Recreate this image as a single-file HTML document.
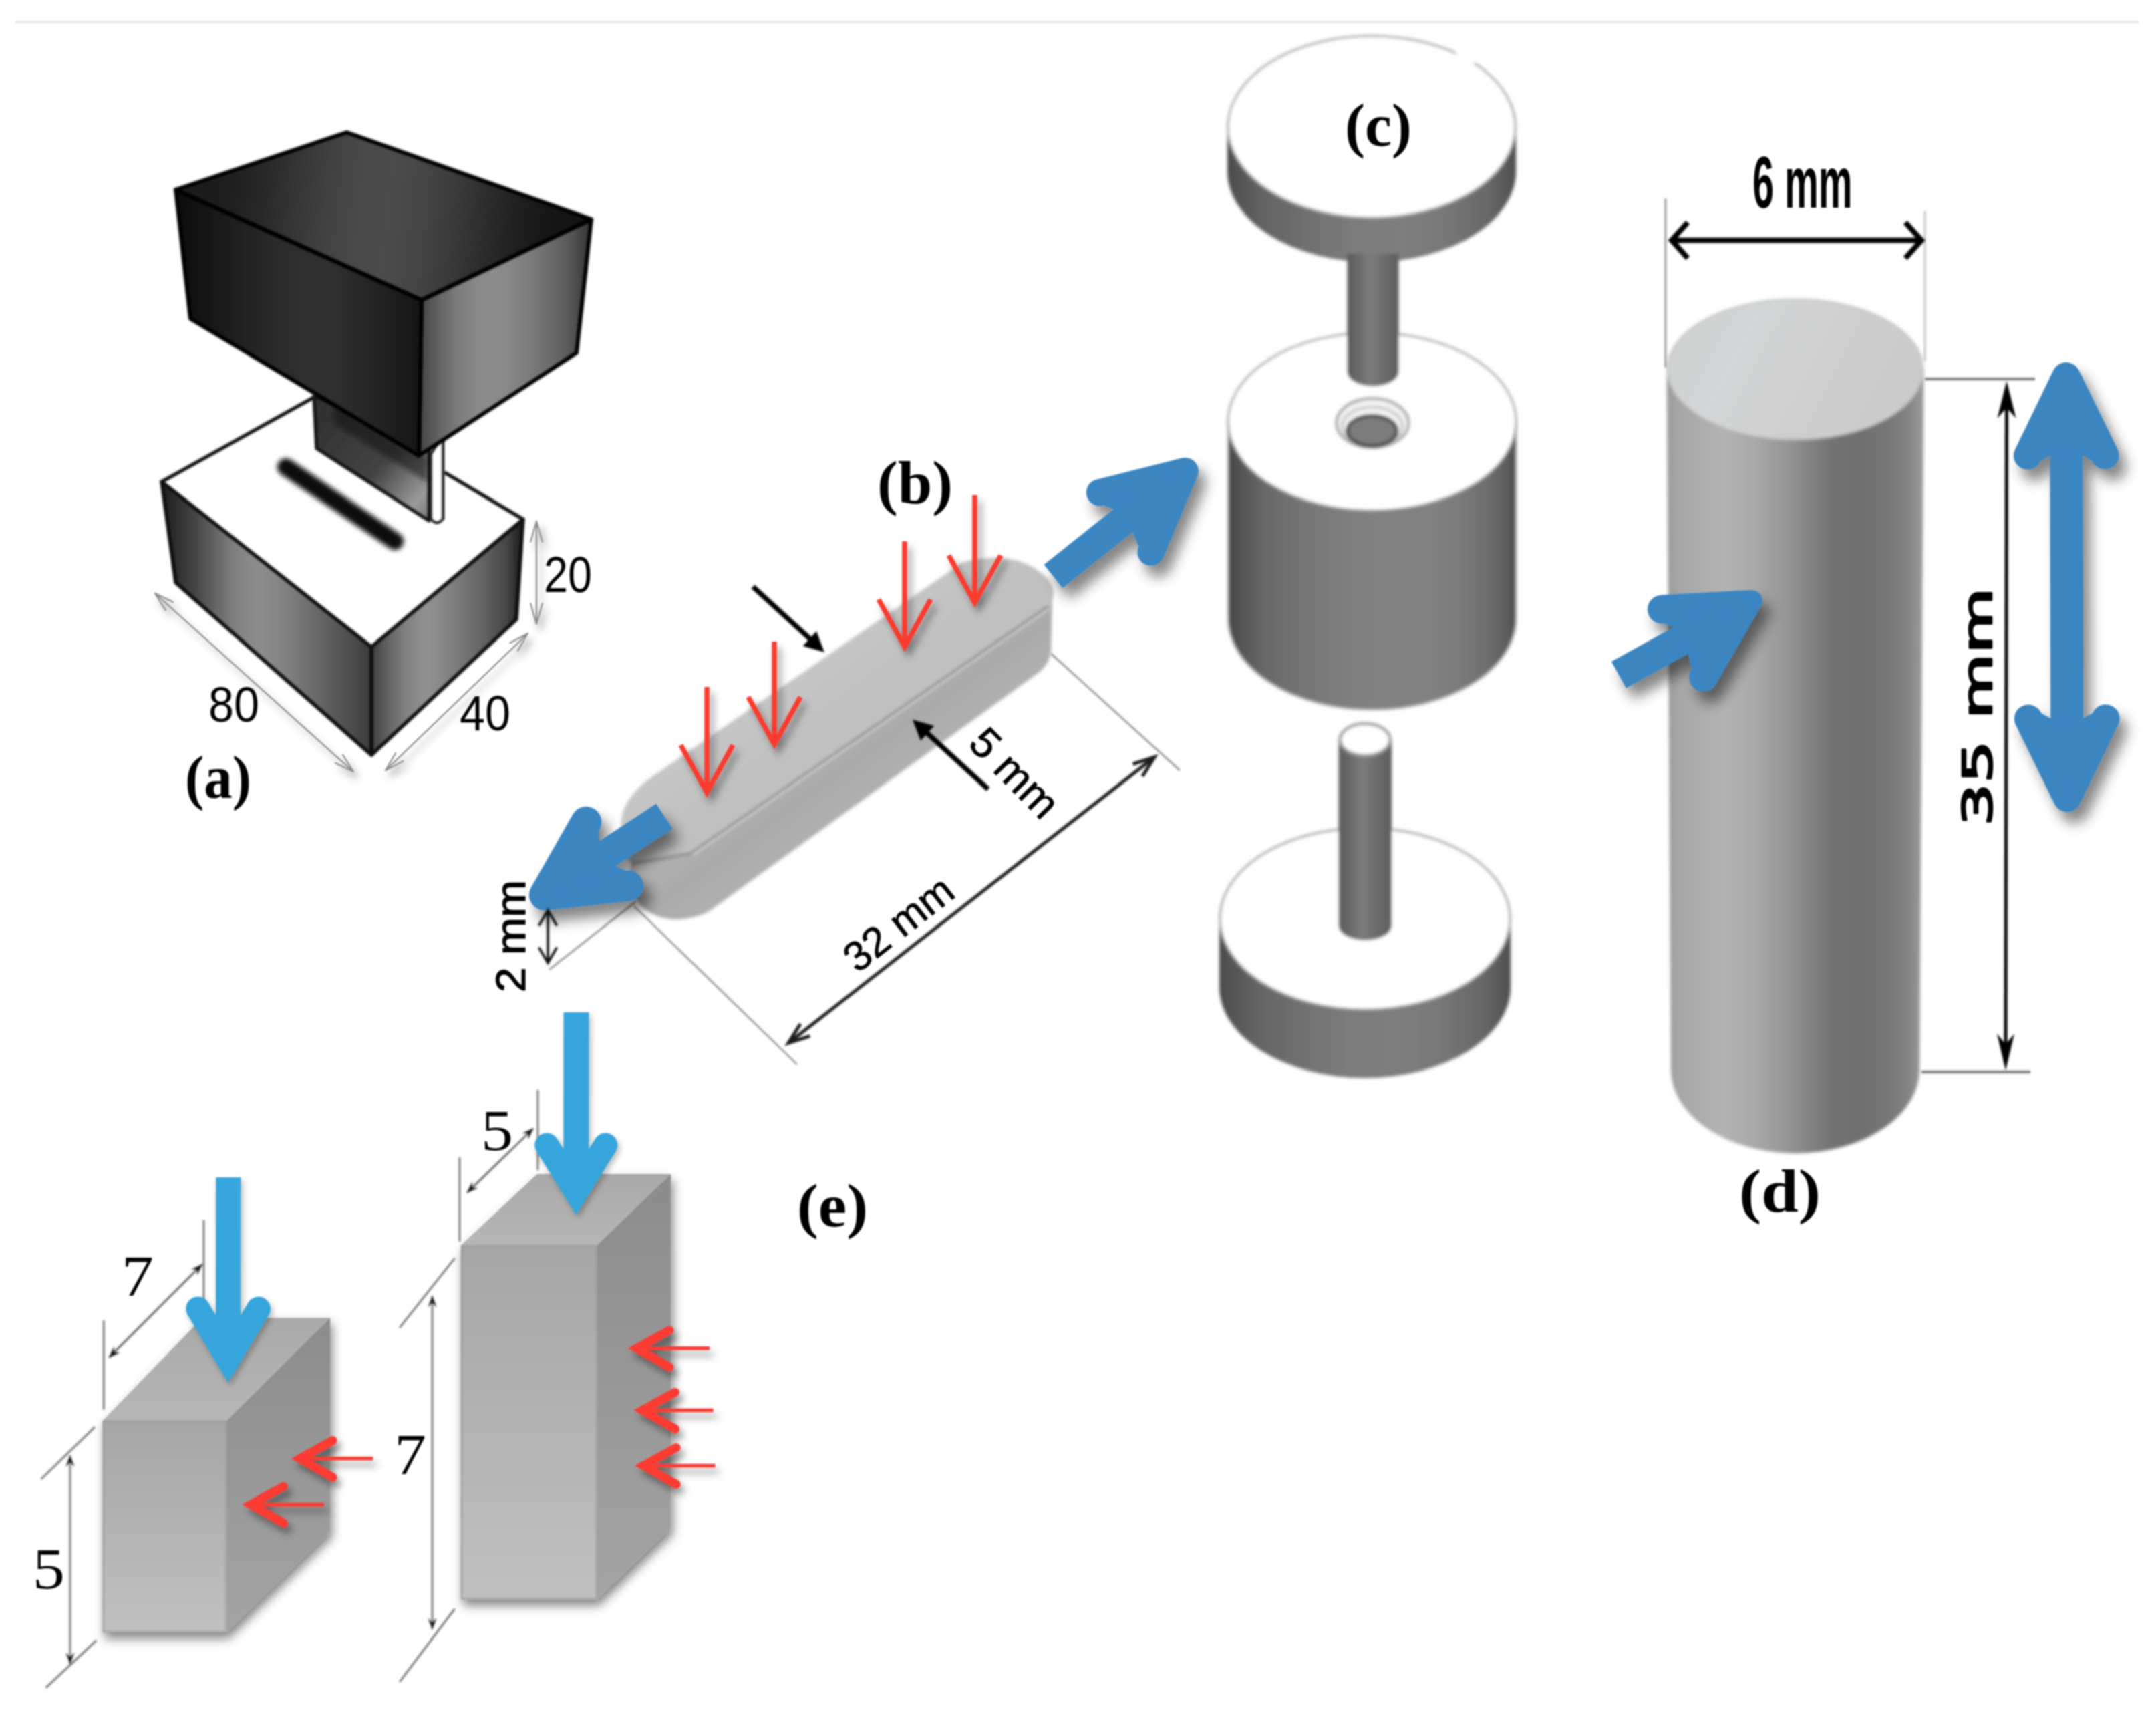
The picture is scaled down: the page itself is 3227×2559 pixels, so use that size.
<!DOCTYPE html>
<html lang="en"><head><meta charset="utf-8"><title>Figure</title>
<style>
html,body{margin:0;padding:0;background:#fff;}
body{width:3227px;height:2559px;overflow:hidden;}
svg{display:block;filter:blur(0.9px);}
text{font-family:"Liberation Sans",sans-serif;fill:#000;}
.ser{font-family:"Liberation Serif",serif;}
.serb{font-family:"Liberation Serif",serif;font-weight:bold;}
.dv{font-family:"DejaVu Sans",sans-serif;font-weight:bold;}
.dvr{font-family:"DejaVu Sans",sans-serif;}
</style></head><body>
<svg width="3227" height="2559" viewBox="0 0 3227 2559">

<defs>
  
  
  
  
  
  
  

  <!-- (a) gradients -->
  <linearGradient id="aL" gradientUnits="userSpaceOnUse" x1="263" y1="0" x2="631" y2="0"><stop offset="0.000" stop-color="#0b0b0b"/><stop offset="0.030" stop-color="#0e0e0e"/><stop offset="0.230" stop-color="#1e1e1e"/><stop offset="0.430" stop-color="#2c2c2c"/><stop offset="0.550" stop-color="#303030"/><stop offset="0.635" stop-color="#303030"/><stop offset="0.840" stop-color="#222222"/><stop offset="0.970" stop-color="#181818"/><stop offset="1.000" stop-color="#141414"/></linearGradient>
  <linearGradient id="aT" gradientUnits="userSpaceOnUse" x1="300" y1="300" x2="860" y2="360"><stop offset="0.000" stop-color="#1c1c1c"/><stop offset="0.083" stop-color="#1f1f1f"/><stop offset="0.167" stop-color="#292929"/><stop offset="0.250" stop-color="#353535"/><stop offset="0.333" stop-color="#414141"/><stop offset="0.417" stop-color="#494949"/><stop offset="0.500" stop-color="#4b4b4b"/><stop offset="0.583" stop-color="#464646"/><stop offset="0.667" stop-color="#3b3b3b"/><stop offset="0.750" stop-color="#2e2e2e"/><stop offset="0.833" stop-color="#212121"/><stop offset="0.917" stop-color="#171717"/><stop offset="1.000" stop-color="#141414"/></linearGradient>
  <linearGradient id="aR" gradientUnits="userSpaceOnUse" x1="631" y1="0" x2="884" y2="0"><stop offset="0.000" stop-color="#484848"/><stop offset="0.100" stop-color="#626262"/><stop offset="0.200" stop-color="#7a7a7a"/><stop offset="0.320" stop-color="#888888"/><stop offset="0.420" stop-color="#8c8c8c"/><stop offset="0.530" stop-color="#868686"/><stop offset="0.640" stop-color="#7c7c7c"/><stop offset="0.750" stop-color="#6c6c6c"/><stop offset="0.860" stop-color="#5c5c5c"/><stop offset="0.980" stop-color="#3a3a3a"/><stop offset="1.000" stop-color="#303030"/></linearGradient>
  <linearGradient id="aL2" gradientUnits="userSpaceOnUse" x1="242" y1="0" x2="556" y2="0"><stop offset="0.000" stop-color="#202020"/><stop offset="0.045" stop-color="#282828"/><stop offset="0.170" stop-color="#484848"/><stop offset="0.260" stop-color="#666666"/><stop offset="0.340" stop-color="#7e7e7e"/><stop offset="0.410" stop-color="#898989"/><stop offset="0.467" stop-color="#8d8d8d"/><stop offset="0.550" stop-color="#868686"/><stop offset="0.635" stop-color="#7a7a7a"/><stop offset="0.800" stop-color="#5e5e5e"/><stop offset="0.930" stop-color="#484848"/><stop offset="1.000" stop-color="#3c3c3c"/></linearGradient>
  <linearGradient id="aR2" gradientUnits="userSpaceOnUse" x1="556" y1="0" x2="783" y2="0"><stop offset="0.000" stop-color="#3e3e3e"/><stop offset="0.030" stop-color="#484848"/><stop offset="0.120" stop-color="#666666"/><stop offset="0.220" stop-color="#808080"/><stop offset="0.300" stop-color="#8c8c8c"/><stop offset="0.370" stop-color="#909090"/><stop offset="0.460" stop-color="#898989"/><stop offset="0.540" stop-color="#7e7e7e"/><stop offset="0.720" stop-color="#666666"/><stop offset="0.890" stop-color="#464646"/><stop offset="0.960" stop-color="#2a2a2a"/><stop offset="1.000" stop-color="#202020"/></linearGradient>
  <linearGradient id="aS" gradientUnits="userSpaceOnUse" x1="480" y1="640" x2="640" y2="780">
    <stop offset="0" stop-color="#333"/><stop offset="0.5" stop-color="#444"/><stop offset="0.85" stop-color="#9a9a9a"/><stop offset="1" stop-color="#777"/>
  </linearGradient>

  <!-- (c) gradients -->
  <linearGradient id="cB" gradientUnits="userSpaceOnUse" x1="1838" y1="0" x2="2270" y2="0"><stop offset="0.000" stop-color="#464646"/><stop offset="0.015" stop-color="#4a4a4a"/><stop offset="0.058" stop-color="#585858"/><stop offset="0.130" stop-color="#686868"/><stop offset="0.226" stop-color="#727272"/><stop offset="0.320" stop-color="#797979"/><stop offset="0.418" stop-color="#7f7f7f"/><stop offset="0.510" stop-color="#818181"/><stop offset="0.706" stop-color="#818181"/><stop offset="0.800" stop-color="#7b7b7b"/><stop offset="0.898" stop-color="#6e6e6e"/><stop offset="0.970" stop-color="#5c5c5c"/><stop offset="0.990" stop-color="#505050"/><stop offset="1.000" stop-color="#4c4c4c"/></linearGradient>
  <linearGradient id="cR" gradientUnits="objectBoundingBox" x1="0" y1="0" x2="1" y2="0"><stop offset="0.000" stop-color="#4a4a4a"/><stop offset="0.030" stop-color="#525252"/><stop offset="0.130" stop-color="#646464"/><stop offset="0.300" stop-color="#727272"/><stop offset="0.450" stop-color="#7c7c7c"/><stop offset="0.600" stop-color="#7e7e7e"/><stop offset="0.750" stop-color="#787878"/><stop offset="0.900" stop-color="#686868"/><stop offset="0.970" stop-color="#585858"/><stop offset="1.000" stop-color="#4e4e4e"/></linearGradient>
  <linearGradient id="cS" gradientUnits="objectBoundingBox" x1="0" y1="0" x2="1" y2="0">
    <stop offset="0" stop-color="#5a5a5a"/><stop offset="0.45" stop-color="#7c7c7c"/><stop offset="1" stop-color="#5c5c5c"/>
  </linearGradient>

  <!-- (d) gradients -->
  <linearGradient id="dB" gradientUnits="userSpaceOnUse" x1="2495" y1="0" x2="2880" y2="0"><stop offset="0.00" stop-color="#9c9c9c"/><stop offset="0.05" stop-color="#a6a6a6"/><stop offset="0.22" stop-color="#b3b3b3"/><stop offset="0.34" stop-color="#a9a9a9"/><stop offset="0.46" stop-color="#969696"/><stop offset="0.56" stop-color="#828282"/><stop offset="0.64" stop-color="#737373"/><stop offset="0.76" stop-color="#707070"/><stop offset="0.86" stop-color="#767676"/><stop offset="0.93" stop-color="#828282"/><stop offset="1.00" stop-color="#9c9c9c"/></linearGradient>
  <linearGradient id="dT" gradientUnits="userSpaceOnUse" x1="2495" y1="450" x2="2878" y2="650">
    <stop offset="0" stop-color="#cccdce"/><stop offset="0.3" stop-color="#d3d5d6"/><stop offset="0.6" stop-color="#cecece"/><stop offset="1" stop-color="#cacaca"/>
  </linearGradient>

  <!-- (b) gradients -->
  <linearGradient id="bT" gradientUnits="userSpaceOnUse" x1="1100" y1="950" x2="1210" y2="1100">
    <stop offset="0" stop-color="#bdbdbd"/><stop offset="0.5" stop-color="#c6c6c6"/><stop offset="1" stop-color="#c0c0c0"/>
  </linearGradient>
  <linearGradient id="bS" gradientUnits="userSpaceOnUse" x1="1200" y1="1100" x2="1290" y2="1225">
    <stop offset="0" stop-color="#b4b4b4"/><stop offset="0.5" stop-color="#aaaaaa"/><stop offset="1" stop-color="#b2b2b2"/>
  </linearGradient>

  <!-- (e) gradients -->
  <linearGradient id="eF" x1="0" y1="0" x2="0" y2="1">
    <stop offset="0" stop-color="#a6a6a6"/><stop offset="1" stop-color="#c0c0c0"/>
  </linearGradient>
  <linearGradient id="eR" x1="0" y1="0" x2="0" y2="1">
    <stop offset="0" stop-color="#8c8c8c"/><stop offset="1" stop-color="#a4a4a4"/>
  </linearGradient>
  <linearGradient id="eT" x1="0" y1="0" x2="0" y2="1">
    <stop offset="0" stop-color="#a9a9a9"/><stop offset="1" stop-color="#b6b6b6"/>
  </linearGradient>
<filter id="sh_a" filterUnits="userSpaceOnUse" x="180" y="150" width="780" height="1120">
    <feGaussianBlur in="SourceAlpha" stdDeviation="10"/>
    <feOffset dx="11" dy="17" result="o"/>
    <feComponentTransfer><feFuncA type="linear" slope="0.48"/></feComponentTransfer>
    <feMerge><feMergeNode/><feMergeNode in="SourceGraphic"/></feMerge>
  </filter>
<filter id="shs_a" filterUnits="userSpaceOnUse" x="180" y="150" width="780" height="1120">
    <feGaussianBlur in="SourceAlpha" stdDeviation="6"/>
    <feOffset dx="6" dy="9" result="o"/>
    <feComponentTransfer><feFuncA type="linear" slope="0.4"/></feComponentTransfer>
    <feMerge><feMergeNode/><feMergeNode in="SourceGraphic"/></feMerge>
  </filter>
<filter id="shbox_a" filterUnits="userSpaceOnUse" x="180" y="150" width="780" height="1120">
    <feGaussianBlur in="SourceAlpha" stdDeviation="8"/>
    <feOffset dx="3" dy="9" result="o"/>
    <feComponentTransfer><feFuncA type="linear" slope="0.5"/></feComponentTransfer>
    <feMerge><feMergeNode/><feMergeNode in="SourceGraphic"/></feMerge>
  </filter>
<filter id="shl_a" filterUnits="userSpaceOnUse" x="180" y="150" width="780" height="1120">
    <feGaussianBlur in="SourceAlpha" stdDeviation="5"/>
    <feOffset dx="3" dy="5" result="o"/>
    <feComponentTransfer><feFuncA type="linear" slope="0.28"/></feComponentTransfer>
    <feMerge><feMergeNode/><feMergeNode in="SourceGraphic"/></feMerge>
  </filter>
<filter id="b1_a" filterUnits="userSpaceOnUse" x="180" y="150" width="780" height="1120"><feGaussianBlur stdDeviation="1.2"/></filter>
<filter id="b2_a" filterUnits="userSpaceOnUse" x="180" y="150" width="780" height="1120"><feGaussianBlur stdDeviation="2.2"/></filter>
<filter id="b3_a" filterUnits="userSpaceOnUse" x="180" y="150" width="780" height="1120"><feGaussianBlur stdDeviation="3.5"/></filter>
<filter id="sh_b" filterUnits="userSpaceOnUse" x="700" y="640" width="1160" height="1010">
    <feGaussianBlur in="SourceAlpha" stdDeviation="10"/>
    <feOffset dx="11" dy="17" result="o"/>
    <feComponentTransfer><feFuncA type="linear" slope="0.48"/></feComponentTransfer>
    <feMerge><feMergeNode/><feMergeNode in="SourceGraphic"/></feMerge>
  </filter>
<filter id="shs_b" filterUnits="userSpaceOnUse" x="700" y="640" width="1160" height="1010">
    <feGaussianBlur in="SourceAlpha" stdDeviation="6"/>
    <feOffset dx="6" dy="9" result="o"/>
    <feComponentTransfer><feFuncA type="linear" slope="0.4"/></feComponentTransfer>
    <feMerge><feMergeNode/><feMergeNode in="SourceGraphic"/></feMerge>
  </filter>
<filter id="shbox_b" filterUnits="userSpaceOnUse" x="700" y="640" width="1160" height="1010">
    <feGaussianBlur in="SourceAlpha" stdDeviation="8"/>
    <feOffset dx="3" dy="9" result="o"/>
    <feComponentTransfer><feFuncA type="linear" slope="0.5"/></feComponentTransfer>
    <feMerge><feMergeNode/><feMergeNode in="SourceGraphic"/></feMerge>
  </filter>
<filter id="shl_b" filterUnits="userSpaceOnUse" x="700" y="640" width="1160" height="1010">
    <feGaussianBlur in="SourceAlpha" stdDeviation="5"/>
    <feOffset dx="3" dy="5" result="o"/>
    <feComponentTransfer><feFuncA type="linear" slope="0.28"/></feComponentTransfer>
    <feMerge><feMergeNode/><feMergeNode in="SourceGraphic"/></feMerge>
  </filter>
<filter id="b1_b" filterUnits="userSpaceOnUse" x="700" y="640" width="1160" height="1010"><feGaussianBlur stdDeviation="1.2"/></filter>
<filter id="b2_b" filterUnits="userSpaceOnUse" x="700" y="640" width="1160" height="1010"><feGaussianBlur stdDeviation="2.2"/></filter>
<filter id="b3_b" filterUnits="userSpaceOnUse" x="700" y="640" width="1160" height="1010"><feGaussianBlur stdDeviation="3.5"/></filter>
<filter id="sh_c" filterUnits="userSpaceOnUse" x="1780" y="20" width="560" height="1650">
    <feGaussianBlur in="SourceAlpha" stdDeviation="10"/>
    <feOffset dx="11" dy="17" result="o"/>
    <feComponentTransfer><feFuncA type="linear" slope="0.48"/></feComponentTransfer>
    <feMerge><feMergeNode/><feMergeNode in="SourceGraphic"/></feMerge>
  </filter>
<filter id="shs_c" filterUnits="userSpaceOnUse" x="1780" y="20" width="560" height="1650">
    <feGaussianBlur in="SourceAlpha" stdDeviation="6"/>
    <feOffset dx="6" dy="9" result="o"/>
    <feComponentTransfer><feFuncA type="linear" slope="0.4"/></feComponentTransfer>
    <feMerge><feMergeNode/><feMergeNode in="SourceGraphic"/></feMerge>
  </filter>
<filter id="shbox_c" filterUnits="userSpaceOnUse" x="1780" y="20" width="560" height="1650">
    <feGaussianBlur in="SourceAlpha" stdDeviation="8"/>
    <feOffset dx="3" dy="9" result="o"/>
    <feComponentTransfer><feFuncA type="linear" slope="0.5"/></feComponentTransfer>
    <feMerge><feMergeNode/><feMergeNode in="SourceGraphic"/></feMerge>
  </filter>
<filter id="shl_c" filterUnits="userSpaceOnUse" x="1780" y="20" width="560" height="1650">
    <feGaussianBlur in="SourceAlpha" stdDeviation="5"/>
    <feOffset dx="3" dy="5" result="o"/>
    <feComponentTransfer><feFuncA type="linear" slope="0.28"/></feComponentTransfer>
    <feMerge><feMergeNode/><feMergeNode in="SourceGraphic"/></feMerge>
  </filter>
<filter id="b1_c" filterUnits="userSpaceOnUse" x="1780" y="20" width="560" height="1650"><feGaussianBlur stdDeviation="1.2"/></filter>
<filter id="b2_c" filterUnits="userSpaceOnUse" x="1780" y="20" width="560" height="1650"><feGaussianBlur stdDeviation="2.2"/></filter>
<filter id="b3_c" filterUnits="userSpaceOnUse" x="1780" y="20" width="560" height="1650"><feGaussianBlur stdDeviation="3.5"/></filter>
<filter id="sh_d" filterUnits="userSpaceOnUse" x="2370" y="180" width="857" height="1710">
    <feGaussianBlur in="SourceAlpha" stdDeviation="10"/>
    <feOffset dx="11" dy="17" result="o"/>
    <feComponentTransfer><feFuncA type="linear" slope="0.48"/></feComponentTransfer>
    <feMerge><feMergeNode/><feMergeNode in="SourceGraphic"/></feMerge>
  </filter>
<filter id="shs_d" filterUnits="userSpaceOnUse" x="2370" y="180" width="857" height="1710">
    <feGaussianBlur in="SourceAlpha" stdDeviation="6"/>
    <feOffset dx="6" dy="9" result="o"/>
    <feComponentTransfer><feFuncA type="linear" slope="0.4"/></feComponentTransfer>
    <feMerge><feMergeNode/><feMergeNode in="SourceGraphic"/></feMerge>
  </filter>
<filter id="shbox_d" filterUnits="userSpaceOnUse" x="2370" y="180" width="857" height="1710">
    <feGaussianBlur in="SourceAlpha" stdDeviation="8"/>
    <feOffset dx="3" dy="9" result="o"/>
    <feComponentTransfer><feFuncA type="linear" slope="0.5"/></feComponentTransfer>
    <feMerge><feMergeNode/><feMergeNode in="SourceGraphic"/></feMerge>
  </filter>
<filter id="shl_d" filterUnits="userSpaceOnUse" x="2370" y="180" width="857" height="1710">
    <feGaussianBlur in="SourceAlpha" stdDeviation="5"/>
    <feOffset dx="3" dy="5" result="o"/>
    <feComponentTransfer><feFuncA type="linear" slope="0.28"/></feComponentTransfer>
    <feMerge><feMergeNode/><feMergeNode in="SourceGraphic"/></feMerge>
  </filter>
<filter id="b1_d" filterUnits="userSpaceOnUse" x="2370" y="180" width="857" height="1710"><feGaussianBlur stdDeviation="1.2"/></filter>
<filter id="b2_d" filterUnits="userSpaceOnUse" x="2370" y="180" width="857" height="1710"><feGaussianBlur stdDeviation="2.2"/></filter>
<filter id="b3_d" filterUnits="userSpaceOnUse" x="2370" y="180" width="857" height="1710"><feGaussianBlur stdDeviation="3.5"/></filter>
<filter id="sh_e" filterUnits="userSpaceOnUse" x="0" y="1480" width="1350" height="1079">
    <feGaussianBlur in="SourceAlpha" stdDeviation="10"/>
    <feOffset dx="11" dy="17" result="o"/>
    <feComponentTransfer><feFuncA type="linear" slope="0.48"/></feComponentTransfer>
    <feMerge><feMergeNode/><feMergeNode in="SourceGraphic"/></feMerge>
  </filter>
<filter id="shs_e" filterUnits="userSpaceOnUse" x="0" y="1480" width="1350" height="1079">
    <feGaussianBlur in="SourceAlpha" stdDeviation="6"/>
    <feOffset dx="6" dy="9" result="o"/>
    <feComponentTransfer><feFuncA type="linear" slope="0.4"/></feComponentTransfer>
    <feMerge><feMergeNode/><feMergeNode in="SourceGraphic"/></feMerge>
  </filter>
<filter id="shbox_e" filterUnits="userSpaceOnUse" x="0" y="1480" width="1350" height="1079">
    <feGaussianBlur in="SourceAlpha" stdDeviation="8"/>
    <feOffset dx="3" dy="9" result="o"/>
    <feComponentTransfer><feFuncA type="linear" slope="0.5"/></feComponentTransfer>
    <feMerge><feMergeNode/><feMergeNode in="SourceGraphic"/></feMerge>
  </filter>
<filter id="shl_e" filterUnits="userSpaceOnUse" x="0" y="1480" width="1350" height="1079">
    <feGaussianBlur in="SourceAlpha" stdDeviation="5"/>
    <feOffset dx="3" dy="5" result="o"/>
    <feComponentTransfer><feFuncA type="linear" slope="0.28"/></feComponentTransfer>
    <feMerge><feMergeNode/><feMergeNode in="SourceGraphic"/></feMerge>
  </filter>
<filter id="b1_e" filterUnits="userSpaceOnUse" x="0" y="1480" width="1350" height="1079"><feGaussianBlur stdDeviation="1.2"/></filter>
<filter id="b2_e" filterUnits="userSpaceOnUse" x="0" y="1480" width="1350" height="1079"><feGaussianBlur stdDeviation="2.2"/></filter>
<filter id="b3_e" filterUnits="userSpaceOnUse" x="0" y="1480" width="1350" height="1079"><feGaussianBlur stdDeviation="3.5"/></filter>
</defs>

<g>
<rect x="23" y="31" width="3178" height="4.5" fill="#ececec"/>
<g id="fig-a">
<polygon points="242.0,721.0 469.0,595.0 667.0,708.0 783.0,777.0 556.0,968.0" fill="#fff"/>
<polygon points="242.0,721.0 556.0,968.0 556.0,1130.0 263.0,872.0" fill="url(#aL2)"/>
<polygon points="556.0,968.0 783.0,777.0 773.0,927.0 556.0,1130.0" fill="url(#aR2)"/>
<g stroke="#0a0a0a" stroke-width="5.4" stroke-linejoin="round" stroke-linecap="round" fill="none" filter="url(#b1_a)">
<polygon points="242.0,721.0 556.0,968.0 556.0,1130.0 263.0,872.0" />
<polygon points="556.0,968.0 783.0,777.0 773.0,927.0 556.0,1130.0" />
<line x1="242.0" y1="721.0" x2="469.0" y2="595.0" />
<line x1="667.0" y1="708.0" x2="783.0" y2="777.0" />
</g>
<line x1="428" y1="699" x2="591" y2="810" stroke="#0a0a0a" stroke-width="26" stroke-linecap="round" filter="url(#b3_a)"/>
<polygon points="470.0,593.0 474.0,671.0 642.0,779.0 642.0,660.0" fill="url(#aS)" stroke="#151515" stroke-width="5.5" stroke-linejoin="round" filter="url(#b1_a)"/>
<path d="M500,602 L640,686 L640,722 L500,634 Z" fill="#111" opacity="0.5" filter="url(#b3_a)"/>
<path d="M645,680 L645,776 Q654,788 663,776 L663,650 Z" fill="#fff" stroke="#151515" stroke-width="4.5" filter="url(#b1_a)"/>
<polygon points="263.0,284.0 519.0,198.0 885.0,328.0 631.0,449.0" fill="url(#aT)"/>
<polygon points="263.0,284.0 631.0,449.0 627.0,682.0 285.0,477.0" fill="url(#aL)"/>
<polygon points="631.0,449.0 885.0,328.0 863.0,528.0 627.0,682.0" fill="url(#aR)"/>
<g stroke="#050505" stroke-width="6" stroke-linejoin="round" fill="none" filter="url(#b1_a)">
<polygon points="263.0,284.0 519.0,198.0 885.0,328.0 631.0,449.0" />
<polygon points="263.0,284.0 631.0,449.0 627.0,682.0 285.0,477.0" />
<polygon points="631.0,449.0 885.0,328.0 863.0,528.0 627.0,682.0" />
</g>
<g filter="url(#shs_a)">
<line x1="232.0" y1="888.0" x2="529.0" y2="1155.0" stroke="#8c8c8c" stroke-width="2.2" stroke-linecap="round" stroke-linejoin="round"/><polyline points="502.0,1141.9 529.0,1155.0 513.1,1129.6" fill="none" stroke="#8c8c8c" stroke-width="2.2" stroke-linecap="round" stroke-linejoin="round"/><polyline points="259.0,901.1 232.0,888.0 247.9,913.4" fill="none" stroke="#8c8c8c" stroke-width="2.2" stroke-linecap="round" stroke-linejoin="round"/>
<line x1="577.0" y1="1153.0" x2="790.0" y2="948.0" stroke="#8c8c8c" stroke-width="2.2" stroke-linecap="round" stroke-linejoin="round"/><polyline points="775.0,974.0 790.0,948.0 763.5,962.0" fill="none" stroke="#8c8c8c" stroke-width="2.2" stroke-linecap="round" stroke-linejoin="round"/><polyline points="592.0,1127.0 577.0,1153.0 603.5,1139.0" fill="none" stroke="#8c8c8c" stroke-width="2.2" stroke-linecap="round" stroke-linejoin="round"/>
<line x1="803.0" y1="780.0" x2="803.0" y2="934.0" stroke="#8c8c8c" stroke-width="2.2" stroke-linecap="round" stroke-linejoin="round"/><polyline points="794.2,903.2 803.0,934.0 811.8,903.2" fill="none" stroke="#8c8c8c" stroke-width="2.2" stroke-linecap="round" stroke-linejoin="round"/><polyline points="811.8,810.8 803.0,780.0 794.2,810.8" fill="none" stroke="#8c8c8c" stroke-width="2.2" stroke-linecap="round" stroke-linejoin="round"/>
</g>
<text x="814" y="886" font-size="76" textLength="72" lengthAdjust="spacingAndGlyphs">20</text>
<text x="312" y="1079.5" font-size="74" textLength="76" lengthAdjust="spacingAndGlyphs">80</text>
<text x="688" y="1092.5" font-size="74" textLength="76" lengthAdjust="spacingAndGlyphs">40</text>
<text class="serb" x="277" y="1194" font-size="90" textLength="99" lengthAdjust="spacingAndGlyphs">(a)</text>
</g>
<g id="fig-b">
<line x1="1573.0" y1="978.0" x2="1766.0" y2="1153.0" stroke="#8a8a8a" stroke-width="2.4" filter="url(#b1_b)"/>
<line x1="949.0" y1="1356.0" x2="1193.0" y2="1593.0" stroke="#8a8a8a" stroke-width="2.4" filter="url(#b1_b)"/>
<line x1="822.0" y1="1451.0" x2="952.0" y2="1349.0" stroke="#8a8a8a" stroke-width="2.4" filter="url(#b1_b)"/>
<g filter="url(#b2_b)">
<path d="M1568,909 L1035,1277 L945,1292 C938,1312 944,1340 960,1356 C976,1372 1002,1379 1026,1375 C1044,1372 1055,1368 1064,1362 L1554,1007 C1566,998 1572,986 1573,974 L1575,890 Z" fill="url(#bS)"/>
<path d="M1440,842 L975,1163 C950,1181 933,1203 930,1226 C928,1258 934,1284 945,1292 L1035,1277 L1568,909 C1580,897 1579,881 1570,869 C1555,849 1520,832 1484,835 C1465,836 1450,838 1440,842 Z" fill="url(#bT)"/>
<path d="M945,1292 L1035,1277" stroke="#8c8c8c" stroke-width="4" fill="none"/>
<path d="M1037,1279 L1570,911" stroke="#d2d2d2" stroke-width="3" fill="none"/>
<path d="M1035,1276 L1568,908" stroke="#848484" stroke-width="3" fill="none"/>
</g>
<g filter="url(#sh_b)" stroke="#3a85c1" fill="none"><line x1="1576.5" y1="862.5" x2="1773.9" y2="705.0" stroke-width="44.6"/><polyline stroke-width="40.0" stroke-linecap="round" stroke-linejoin="round" stroke-miterlimit="10" points="1722.5,826.6 1773.9,705.0 1645.9,737.1"/><polygon fill="#3a85c1" stroke="none" points="1773.9,705.0 1705.0,819.2 1694.8,795.3 1668.3,762.0 1650.5,755.6"/></g>
<g filter="url(#sh_b)" stroke="#3a85c1" fill="none"><line x1="994.4" y1="1221.5" x2="815.0" y2="1339.5" stroke-width="44.8"/><polyline stroke-width="46.0" stroke-linecap="round" stroke-linejoin="round" stroke-miterlimit="10" points="877.4,1230.0 815.0,1339.5 940.2,1325.6"/><polygon fill="#3a85c1" stroke="none" points="815.0,1339.5 896.5,1240.9 897.0,1259.9 920.6,1295.7 937.8,1303.7"/></g>
<g filter="url(#shs_b)" stroke="#fb3b2e" stroke-width="7.5" fill="none" stroke-linejoin="miter">
<line x1="1058" y1="1028" x2="1058" y2="1185"/>
<polyline points="1019,1115 1058,1186 1097,1115"/>
<line x1="1159" y1="960" x2="1159" y2="1113"/>
<polyline points="1120,1043 1159,1114 1198,1043"/>
<line x1="1354" y1="810" x2="1354" y2="967"/>
<polyline points="1315,897 1354,968 1393,897"/>
<line x1="1459" y1="741" x2="1459" y2="901"/>
<polyline points="1420,831 1459,902 1498,831"/>
</g>
<g filter="url(#b1_b)">
<line x1="1127.0" y1="878.0" x2="1213.4" y2="957.1" stroke="#000" stroke-width="7.5"/><polygon points="1234.0,976.0 1201.7,966.8 1222.0,944.7" fill="#000"/>
<line x1="1479.0" y1="1181.0" x2="1386.6" y2="1096.0" stroke="#000" stroke-width="7.5"/><polygon points="1366.0,1077.0 1398.2,1086.3 1377.9,1108.4" fill="#000"/>
<line x1="1180.0" y1="1561.0" x2="1728.0" y2="1133.0" stroke="#1a1a1a" stroke-width="5"/><polyline points="1710.0,1161.8 1728.0,1133.0 1695.7,1143.5" fill="none" stroke="#1a1a1a" stroke-width="5"/><polyline points="1198.0,1532.2 1180.0,1561.0 1212.3,1550.5" fill="none" stroke="#1a1a1a" stroke-width="5"/>
<line x1="820.0" y1="1362.0" x2="820.0" y2="1441.0" stroke="#111" stroke-width="3.6"/><polyline points="806.5,1417.6 820.0,1441.0 833.5,1417.6" fill="none" stroke="#111" stroke-width="3.6"/><polyline points="833.5,1385.4 820.0,1362.0 806.5,1385.4" fill="none" stroke="#111" stroke-width="3.6"/>
</g>
<text transform="translate(1358,1399) rotate(-38)" font-size="62" text-anchor="middle" stroke="#000" stroke-width="0.8">32 mm</text>
<text transform="translate(1503,1172) rotate(45.5)" font-size="64" text-anchor="middle" stroke="#000" stroke-width="0.8">5 mm</text>
<text transform="translate(786,1401) rotate(-90)" font-size="63" text-anchor="middle" textLength="168" lengthAdjust="spacingAndGlyphs" stroke="#000" stroke-width="1.3">2 mm</text>
<text class="serb" x="1313" y="753" font-size="90" textLength="113" lengthAdjust="spacingAndGlyphs">(b)</text>
</g>
<g id="fig-c" filter="url(#b2_c)">
<path d="M1825,1375 L1825,1477 A218,136 0 0 0 2261,1477 L2261,1375 Z" fill="url(#cR)"/>
<ellipse cx="2043" cy="1375" rx="217" ry="136" fill="#fff" stroke="#9a9a9a" stroke-width="3"/>
<path d="M2003.5,1107 L2003.5,1385 A39.7,22 0 0 0 2083,1385 L2083,1107 Z" fill="url(#cS)"/>
<ellipse cx="2043.2" cy="1107" rx="37.5" ry="24" fill="#fff" stroke="#9a9a9a" stroke-width="4.5"/>
<path d="M1839.2,631 L1839.2,925 A214.5,136 0 0 0 2268.2,925 L2268.2,631 Z" fill="url(#cB)" stroke="#bcbcbc" stroke-width="5"/>
<path d="M1839.2,631 L1839.2,925 A214.5,136 0 0 0 2268.2,925 L2268.2,631 Z" fill="url(#cB)"/>
<ellipse cx="2053.7" cy="631" rx="215.5" ry="133" fill="#fff" stroke="#a0a0a0" stroke-width="3"/>
<ellipse cx="2054.3" cy="633" rx="54" ry="37" fill="#f2f2f2" stroke="#a8a8a8" stroke-width="4.5"/>
<ellipse cx="2054" cy="638" rx="45" ry="29" fill="none" stroke="#c4c4c4" stroke-width="3.5"/>
<ellipse cx="2053.7" cy="644.7" rx="37" ry="22.5" fill="#7c7c7c" stroke="#4a4a4a" stroke-width="5"/>
<path d="M1837,190 L1837,256 A216,136 0 0 0 2269,256 L2269,190 Z" fill="url(#cR)"/>
<path d="M2016.5,380 L2016.5,556 A38.5,22 0 0 0 2093.5,556 L2093.5,380 Z" fill="url(#cS)"/>
<ellipse cx="2053" cy="190" rx="215" ry="136" fill="#fff" stroke="#a0a0a0" stroke-width="3"/>
<path d="M2187,80 L2200,91" fill="none" stroke="#fff" stroke-width="15" stroke-linecap="round"/>
</g>
<text class="serb" x="2013" y="218" font-size="90" textLength="100" lengthAdjust="spacingAndGlyphs">(c)</text>
<g id="fig-d">
<g filter="url(#b2_d)">
<path d="M2494.5,552.8 L2500.8,1600 A186.2,126 0 0 0 2873.2,1600 L2879.5,552.8 Z" fill="url(#dB)"/>
<ellipse cx="2687.0" cy="552.8" rx="191.5" ry="105.0" fill="url(#dT)" stroke="#bdbdbd" stroke-width="2"/>
</g>
<line x1="2492.9" y1="297.0" x2="2492.9" y2="550.0" stroke="#9a9a9a" stroke-width="3" filter="url(#b1_d)"/>
<line x1="2881.0" y1="316.0" x2="2881.0" y2="540.0" stroke="#c4c4c4" stroke-width="3" filter="url(#b1_d)"/>
<line x1="2881.0" y1="567.0" x2="3046.0" y2="567.0" stroke="#6a6a6a" stroke-width="3.5" filter="url(#b1_d)"/>
<line x1="2876.0" y1="1604.0" x2="3039.0" y2="1604.0" stroke="#6a6a6a" stroke-width="3.5" filter="url(#b1_d)"/>
<g filter="url(#b1_d)">
<line x1="2502.0" y1="359.5" x2="2876.0" y2="359.5" stroke="#000" stroke-width="8" stroke-linejoin="miter"/><polyline points="2851.9,386.3 2876.0,359.5 2851.9,332.7" fill="none" stroke="#000" stroke-width="8" stroke-linejoin="miter"/><polyline points="2526.1,332.7 2502.0,359.5 2526.1,386.3" fill="none" stroke="#000" stroke-width="8" stroke-linejoin="miter"/>
<line x1="3003.5" y1="590.0" x2="3002.0" y2="1590.0" stroke="#000" stroke-width="5"/>
<polygon points="3003.5,570 3017.5,626 3003.5,610 2989.5,626" fill="#000"/>
<polygon points="3002,1602 3015,1547 3002,1563 2989,1547" fill="#000"/>
</g>
<text transform="translate(2698,311) scale(0.52,1)" font-size="110" font-weight="bold" text-anchor="middle">6 mm</text>
<text transform="translate(2981,1058) rotate(-90) scale(1.68,1)" class="dvr" font-size="60" text-anchor="middle" stroke="#000" stroke-width="2.6" stroke-linejoin="round">35 mm</text>
<g filter="url(#sh_d)" stroke="#3a85c1" fill="none"><line x1="2422.9" y1="1009.9" x2="2612.2" y2="905.3" stroke-width="45.2"/><polyline stroke-width="43.0" stroke-linecap="round" stroke-linejoin="round" stroke-miterlimit="10" points="2549.7,1013.6 2612.2,905.3 2487.4,911.9"/><polygon fill="#3a85c1" stroke="none" points="2612.2,905.3 2532.0,1003.3 2526.5,977.3 2505.6,939.5 2488.5,932.4"/><polyline stroke-width="32.0" stroke-linecap="butt" stroke-linejoin="round" points="2587.7,958.8 2622.0,899.3 2553.4,902.9"/></g>
<g filter="url(#sh_d)" stroke="#3a85c1" fill="none"><line x1="3094.0" y1="1194.0" x2="3092.5" y2="563.0" stroke-width="49.0"/><polyline stroke-width="42.0" stroke-linecap="round" stroke-linejoin="round" stroke-miterlimit="10" points="3150.6,681.5 3092.5,563.0 3034.9,681.8"/><polygon fill="#3a85c1" stroke="none" points="3092.5,563.0 3132.7,690.3 3116.3,681.6 3069.3,681.7 3052.9,690.5"/><polyline stroke-width="42.0" stroke-linecap="round" stroke-linejoin="round" stroke-miterlimit="10" points="3035.9,1075.5 3094.0,1194.0 3151.6,1075.2"/><polygon fill="#3a85c1" stroke="none" points="3094.0,1194.0 3053.8,1066.7 3070.2,1075.4 3117.2,1075.3 3133.6,1066.5"/></g>
<text class="serb" x="2603" y="1813" font-size="90" textLength="122" lengthAdjust="spacingAndGlyphs">(d)</text>
</g>
<g id="fig-e">
<g filter="url(#shbox_e)"><polygon points="153.7,2126.0 302.7,1972.3 494.3,1972.3 339.6,2126.0" fill="url(#eT)"/><polygon points="339.6,2126.0 494.3,1972.3 494.3,2291.6 339.6,2443.0" fill="url(#eR)"/><rect x="153.7" y="2126.0" width="185.9" height="317.0" fill="url(#eF)"/></g><g fill="none" stroke="#9a9a9a" stroke-width="2.5" opacity="0.8" filter="url(#b1_e)"><rect x="154.7" y="2127.0" width="183.9" height="315.0"/></g>
<g filter="url(#shbox_e)"><polygon points="690.0,1863.6 804.0,1757.0 1004.2,1757.0 893.7,1863.6" fill="url(#eT)"/><polygon points="893.7,1863.6 1004.2,1757.0 1004.2,2287.0 893.7,2393.6" fill="url(#eR)"/><rect x="690.0" y="1863.6" width="203.7" height="530.0" fill="url(#eF)"/></g><g fill="none" stroke="#9a9a9a" stroke-width="2.5" opacity="0.8" filter="url(#b1_e)"><rect x="691.0" y="1864.6" width="201.7" height="528.0"/></g>
<g filter="url(#b1_e)">
<line x1="155.2" y1="1976.0" x2="155.2" y2="2109.5" stroke="#666" stroke-width="2.6"/>
<line x1="305.0" y1="1825.7" x2="305.0" y2="1958.0" stroke="#666" stroke-width="2.6"/>
<line x1="163.2" y1="2031.5" x2="302.7" y2="1892.0" stroke="#555" stroke-width="2.6"/><polygon points="302.7,1892.0 295.3,1908.6 295.2,1899.5 286.1,1899.4" fill="#111"/><polygon points="163.2,2031.5 170.6,2014.9 170.7,2024.0 179.8,2024.1" fill="#111"/>
<line x1="61.5" y1="2213.6" x2="142.0" y2="2135.5" stroke="#666" stroke-width="2.6"/>
<line x1="68.6" y1="2525.8" x2="144.3" y2="2454.8" stroke="#666" stroke-width="2.6"/>
<line x1="105.0" y1="2178.0" x2="105.0" y2="2490.0" stroke="#8a8a8a" stroke-width="3.4"/><polygon points="105.0,2490.0 98.5,2473.0 105.0,2479.5 111.5,2473.0" fill="#111"/><polygon points="105.0,2178.0 111.5,2195.0 105.0,2188.5 98.5,2195.0" fill="#111"/>
<line x1="687.9" y1="1731.8" x2="687.9" y2="1858.0" stroke="#666" stroke-width="2.6"/>
<line x1="805.0" y1="1630.8" x2="805.0" y2="1751.4" stroke="#666" stroke-width="2.6"/>
<line x1="699.0" y1="1785.0" x2="798.4" y2="1688.6" stroke="#555" stroke-width="2.6"/><polygon points="798.4,1688.6 790.7,1705.1 790.8,1695.9 781.7,1695.8" fill="#111"/><polygon points="699.0,1785.0 706.7,1768.5 706.6,1777.7 715.7,1777.8" fill="#111"/>
<line x1="598.0" y1="1987.0" x2="680.6" y2="1883.0" stroke="#666" stroke-width="2.6"/>
<line x1="598.0" y1="2517.0" x2="680.6" y2="2407.6" stroke="#666" stroke-width="2.6"/>
<line x1="647.0" y1="1939.3" x2="647.0" y2="2438.5" stroke="#8a8a8a" stroke-width="3.4"/><polygon points="647.0,2438.5 640.5,2421.5 647.0,2428.0 653.5,2421.5" fill="#111"/><polygon points="647.0,1939.3 653.5,1956.3 647.0,1949.8 640.5,1956.3" fill="#111"/>
</g>
<g filter="url(#shl_e)" stroke="#35a5dc" fill="none"><line x1="341.8" y1="1762.0" x2="341.5" y2="2034.0" stroke-width="37.0"/><polyline stroke-width="36.0" stroke-linecap="round" stroke-linejoin="miter" stroke-miterlimit="10" points="296.3,1958.5 341.5,2034.0 386.9,1958.6"/></g>
<g filter="url(#shl_e)" stroke="#35a5dc" fill="none"><line x1="862.5" y1="1515.0" x2="862.3" y2="1784.0" stroke-width="38.0"/><polyline stroke-width="36.0" stroke-linecap="round" stroke-linejoin="miter" stroke-miterlimit="10" points="818.4,1713.6 862.3,1784.0 906.3,1713.6"/></g>
<g filter="url(#shs_e)" stroke="#fc3b30" fill="none">
<line x1="558.2" y1="2182.8" x2="448.0" y2="2182.8" stroke-width="5.5"/><polyline points="498.0,2155.8 449.0,2182.8 498.0,2210.8" stroke-width="13" stroke-linecap="round" stroke-linejoin="miter"/>
<line x1="484.9" y1="2251.4" x2="374.6" y2="2251.4" stroke-width="5.5"/><polyline points="424.6,2224.4 375.6,2251.4 424.6,2279.4" stroke-width="13" stroke-linecap="round" stroke-linejoin="miter"/>
<line x1="1062.0" y1="2017.8" x2="952.2" y2="2017.8" stroke-width="5.5"/><polyline points="1002.2,1990.8 953.2,2017.8 1002.2,2045.8" stroke-width="13" stroke-linecap="round" stroke-linejoin="miter"/>
<line x1="1067.6" y1="2110.4" x2="960.6" y2="2110.4" stroke-width="5.5"/><polyline points="1010.6,2083.4 961.6,2110.4 1010.6,2138.4" stroke-width="13" stroke-linecap="round" stroke-linejoin="miter"/>
<line x1="1070.4" y1="2193.4" x2="962.3" y2="2193.4" stroke-width="5.5"/><polyline points="1012.3,2166.4 963.3,2193.4 1012.3,2221.4" stroke-width="13" stroke-linecap="round" stroke-linejoin="miter"/>
</g>
<text class="ser" x="182" y="1939" font-size="86" textLength="48" lengthAdjust="spacingAndGlyphs">7</text>
<text class="ser" x="49" y="2376.5" font-size="86" textLength="48" lengthAdjust="spacingAndGlyphs">5</text>
<text class="ser" x="590" y="2206" font-size="86" textLength="48" lengthAdjust="spacingAndGlyphs">7</text>
<text class="ser" x="720" y="1720.5" font-size="86" textLength="48" lengthAdjust="spacingAndGlyphs">5</text>
<text class="serb" x="1193" y="1835" font-size="92" textLength="106" lengthAdjust="spacingAndGlyphs">(e)</text>
</g>
</g>
</svg>
</body></html>
